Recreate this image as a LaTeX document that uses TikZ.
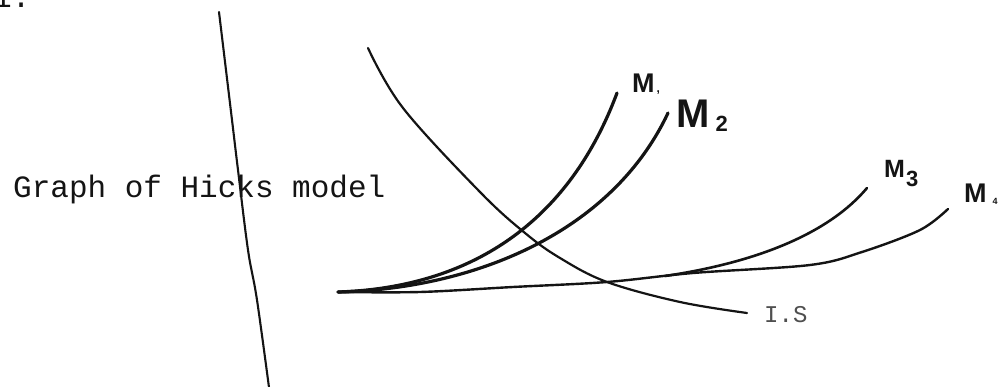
\documentclass[tikz,border=0pt]{standalone}
\usepackage{fontspec}
\newfontfamily\monof{Liberation Mono}
\newfontfamily\handf{Liberation Sans}
\definecolor{ink}{HTML}{141414}
\begin{document}
\begin{tikzpicture}[x=1pt,y=-1pt,
  axisline/.style={draw=ink,line width=2.1pt,line cap=round},
  mline/.style={draw=ink,line width=3.2pt,line cap=round},
  iline/.style={draw=ink,line width=2.2pt,line cap=round},
  typed/.style={inner sep=0pt,anchor=base west,text=ink,font=\monof\fontsize{31}{31}\selectfont},
  hand/.style={inner sep=0pt,anchor=base west,text=ink,font=\handf\bfseries}]
\useasboundingbox (0,0) rectangle (1006,387);
% corner mark
\node[typed] (num) at (-7,8) {1:};
% vertical axis
\draw[axisline] plot[smooth,tension=0.6] coordinates {(219,12) (232,120) (238,170) (248,250) (257,300) (270,395)};
% title
\node[typed] (title) at (13,198) {Graph of Hicks model};
% I curve
\draw[iline] plot[smooth,tension=0.6] coordinates {(368,48) (403,108) (480,192) (525,233) (560,258) (607,282) (680,302) (747,313)};
% M4 (flat)
\draw[iline,line width=2.4pt] plot[smooth,tension=0.55] coordinates {(338,292) (420,292) (513,287) (607,282) (693,273) (810,265) (862,252) (920,230) (948,209)};
% M3
\draw[mline,line width=2.6pt] (665,276) .. controls (760,262) and (830,232) .. (867,188);
% M1
\draw[mline] (338,292) .. controls (460,288) and (565,232) .. (617,93);
% M2
\draw[mline] (338,292) .. controls (475,289) and (612,232) .. (668,113);
% labels
\node[hand,font=\handf\bfseries\fontsize{27}{27}\selectfont] (m1) at (632,93) {M\kern2pt\raisebox{0pt}{\fontsize{12}{12}\selectfont ,}};
\node[hand,font=\handf\bfseries\fontsize{40}{40}\selectfont] (m2) at (676,128) {M\kern6pt\raisebox{-4pt}{\fontsize{22}{22}\selectfont 2}};
\node[hand,font=\handf\bfseries\fontsize{25}{25}\selectfont] (m3) at (884,178) {M\kern1pt\raisebox{-9pt}{\fontsize{22}{22}\selectfont 3}};
\node[hand,font=\handf\bfseries\fontsize{27}{27}\selectfont] (m4) at (964,203) {M\kern6pt\raisebox{-2pt}{\fontsize{9}{9}\selectfont 4}};
\node[inner sep=0pt,anchor=base west,text=ink!75,font=\monof\fontsize{24}{24}\selectfont] (is) at (764,322) {I.S};
\end{tikzpicture}
\end{document}
